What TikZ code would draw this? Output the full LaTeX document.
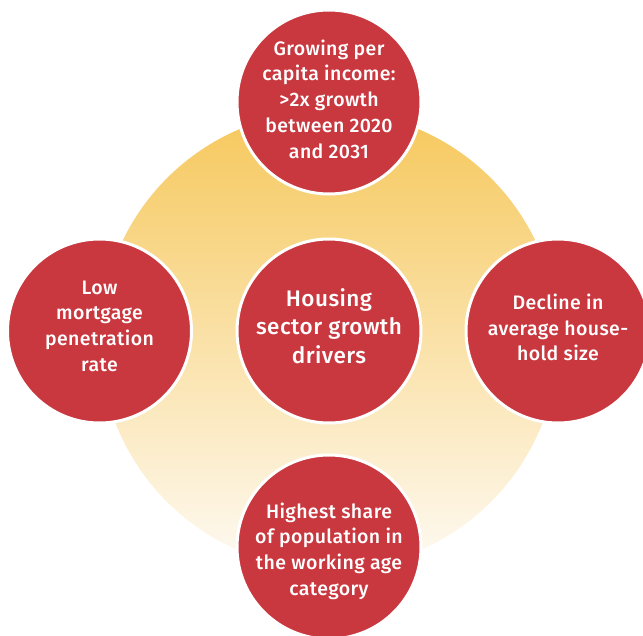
\documentclass[tikz,border=0pt]{standalone}
\usepackage{fontspec}
\setmainfont{Fira Sans}[BoldFont={Fira Sans Medium}, BoldFeatures={LetterSpace=2}]
\definecolor{drvred}{HTML}{C9373F}
\definecolor{goldtop}{HTML}{F6C85C}
\definecolor{goldmid}{HTML}{F9E0A3}
\definecolor{goldbot}{HTML}{FEFAF3}
\tikzset{
  driver/.style={circle, fill=drvred, draw=white, line width=3pt,
    minimum size=184pt, inner sep=0pt},
  drvtext/.style={text=white, align=center, inner sep=0pt,
    font=\bfseries\fontsize{19.5}{25.7}\selectfont},
  hubtext/.style={drvtext, font=\bfseries\fontsize{22.5}{28.8}\selectfont}
}
\begin{document}
\begin{tikzpicture}[x=1pt,y=-1pt]
\useasboundingbox (0,0) rectangle (643,635);
\shade[top color=goldtop, middle color=goldmid, bottom color=goldbot]
  (329,340) circle (229);
\node[driver] (top) at (329,102) {};
\node[driver] (left) at (99.5,331) {};
\node[driver] (right) at (558,331) {};
\node[driver] (bottom) at (329,547) {};
\node[driver] (hub) at (329,331) {};
\node[drvtext] (toptext) at ([yshift=3pt]top.center) {Growing per\\capita income:\\>2x growth\\between 2020\\and 2031};
\node[drvtext] (lefttext) at ([yshift=5pt]left.center) {Low\\mortgage\\penetration\\rate};
\node[drvtext] (righttext) at ([yshift=3.5pt]right.center) {Decline in\\average house-\\hold size};
\node[drvtext] (bottomtext) at ([yshift=-4pt]bottom.center) {Highest share\\of population in\\the working age\\category};
\node[hubtext] (hubtext) at ([yshift=5pt]hub.center) {Housing\\sector growth\\drivers};
\end{tikzpicture}
\end{document}
